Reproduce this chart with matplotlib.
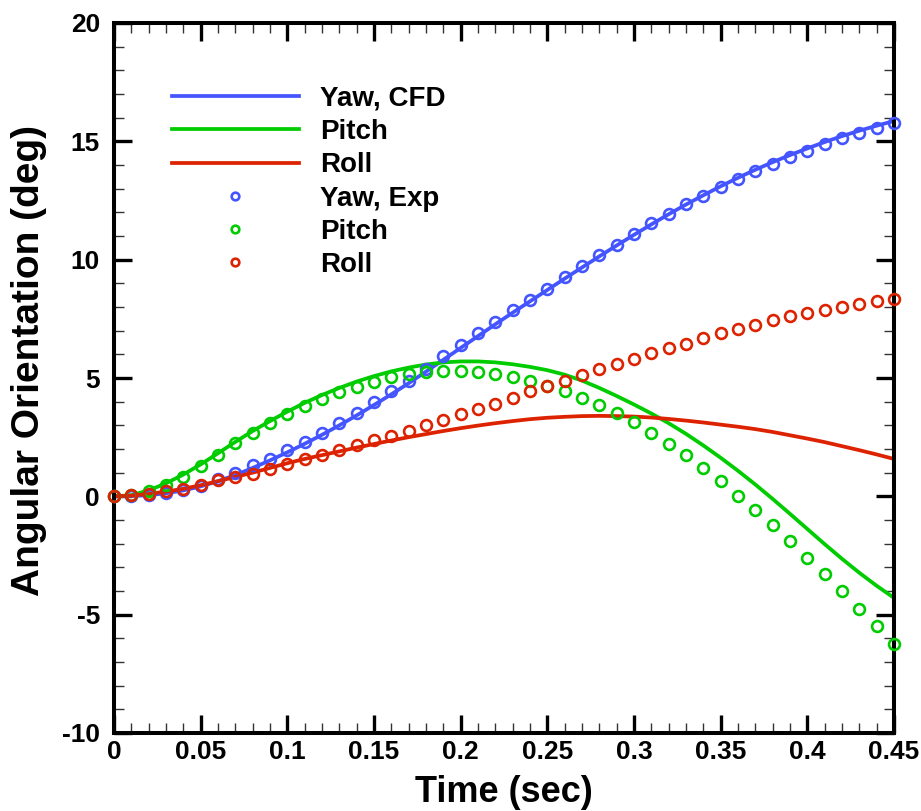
import matplotlib
matplotlib.use("Agg")
import matplotlib.pyplot as plt
from matplotlib.lines import Line2D
from matplotlib.ticker import FixedLocator, MultipleLocator

plt.rcParams['font.family'] = ['Liberation Sans', 'DejaVu Sans']
plt.rcParams['font.weight'] = 'bold'
plt.rcParams['axes.unicode_minus'] = False

time = [0.00, 0.01, 0.02, 0.03, 0.04, 0.05, 0.06, 0.07, 0.08, 0.09,
        0.10, 0.11, 0.12, 0.13, 0.14, 0.15, 0.16, 0.17, 0.18, 0.19,
        0.20, 0.21, 0.22, 0.23, 0.24, 0.25, 0.26, 0.27, 0.28, 0.29,
        0.30, 0.31, 0.32, 0.33, 0.34, 0.35, 0.36, 0.37, 0.38, 0.39,
        0.40, 0.41, 0.42, 0.43, 0.44, 0.45]

yaw_cfd = [0.0, 0.01, 0.05, 0.13, 0.25, 0.42, 0.64, 0.90, 1.20, 1.52,
           1.86, 2.22, 2.60, 3.00, 3.42, 3.86, 4.31, 4.78, 5.27, 5.77,
           6.27, 6.77, 7.27, 7.76, 8.24, 8.72, 9.20, 9.67, 10.14, 10.60,
           11.05, 11.49, 11.92, 12.33, 12.72, 13.10, 13.46, 13.80, 14.12, 14.42,
           14.70, 14.97, 15.22, 15.45, 15.66, 15.86]
pitch_cfd = [0.0, 0.05, 0.25, 0.55, 0.92, 1.35, 1.82, 2.30, 2.76, 3.18,
             3.58, 3.95, 4.28, 4.58, 4.85, 5.08, 5.28, 5.44, 5.57, 5.66,
             5.70, 5.70, 5.66, 5.58, 5.47, 5.33, 5.14, 4.89, 4.58, 4.24,
             3.88, 3.50, 3.09, 2.64, 2.15, 1.63, 1.08, 0.50, -0.11, -0.74,
             -1.38, -2.02, -2.64, -3.23, -3.78, -4.29]
roll_cfd = [0.0, 0.03, 0.10, 0.20, 0.32, 0.47, 0.64, 0.82, 1.00, 1.20,
            1.40, 1.58, 1.74, 1.90, 2.06, 2.21, 2.36, 2.50, 2.63, 2.76,
            2.88, 2.99, 3.09, 3.18, 3.26, 3.32, 3.36, 3.39, 3.40, 3.39,
            3.37, 3.33, 3.27, 3.20, 3.12, 3.03, 2.94, 2.84, 2.72, 2.58,
            2.44, 2.29, 2.12, 1.95, 1.77, 1.58]

yaw_exp = [0.0, 0.0, 0.05, 0.12, 0.25, 0.45, 0.75, 0.98, 1.31, 1.59,
           1.94, 2.29, 2.67, 3.09, 3.51, 3.98, 4.44, 4.89, 5.39, 5.91,
           6.40, 6.89, 7.38, 7.88, 8.30, 8.78, 9.25, 9.72, 10.18, 10.64,
           11.09, 11.53, 11.95, 12.35, 12.70, 13.05, 13.40, 13.73, 14.04, 14.32,
           14.60, 14.88, 15.12, 15.36, 15.58, 15.78]
pitch_exp = [0.0, 0.04, 0.22, 0.49, 0.82, 1.27, 1.73, 2.25, 2.67, 3.09,
             3.49, 3.80, 4.12, 4.40, 4.64, 4.85, 5.03, 5.15, 5.25, 5.29,
             5.29, 5.25, 5.18, 5.06, 4.89, 4.68, 4.47, 4.16, 3.88, 3.52,
             3.14, 2.69, 2.22, 1.73, 1.19, 0.65, 0.03, -0.59, -1.22, -1.90,
             -2.59, -3.28, -4.00, -4.74, -5.49, -6.22]
roll_exp = [0.0, 0.04, 0.11, 0.22, 0.32, 0.49, 0.68, 0.82, 0.96, 1.17,
            1.38, 1.59, 1.76, 1.94, 2.15, 2.36, 2.57, 2.78, 3.00, 3.24,
            3.46, 3.70, 3.91, 4.16, 4.43, 4.68, 4.89, 5.11, 5.36, 5.60,
            5.81, 6.05, 6.26, 6.45, 6.68, 6.90, 7.08, 7.26, 7.43, 7.60,
            7.76, 7.88, 8.00, 8.13, 8.24, 8.35]

x_ticks = [0, 0.05, 0.1, 0.15, 0.2, 0.25, 0.3, 0.35, 0.4, 0.45]
x_ticklabels = ["0", "0.05", "0.1", "0.15", "0.2", "0.25", "0.3", "0.35", "0.4", "0.45"]
y_ticks = [-10, -5, 0, 5, 10, 15, 20]
y_ticklabels = ["-10", "-5", "0", "5", "10", "15", "20"]

labels_cfd = ["Yaw, CFD", "Pitch", "Roll"]
labels_exp = ["Yaw, Exp", "Pitch", "Roll"]

BLUE = "#4455ff"
GREEN = "#00cc00"
RED = "#dd2200"
colors = [BLUE, GREEN, RED]

fig = plt.figure(figsize=(9.21, 8.11), dpi=100)
ax = fig.add_axes([114/921, 1 - 733/811, 780/921, 710/811])

lw = 2.7
for series, c in zip([yaw_cfd, pitch_cfd, roll_cfd], colors):
    ax.plot(time, series, color=c, lw=lw, zorder=2, solid_capstyle='butt')
for series, c in zip([yaw_exp, pitch_exp, roll_exp], colors):
    ax.plot(time, series, linestyle='none', marker='o', markersize=7.8,
            markerfacecolor='none', markeredgecolor=c, markeredgewidth=1.9,
            zorder=3, clip_on=False)

ax.set_xlim(0, 0.45)
ax.set_ylim(-10, 20)
ax.xaxis.set_major_locator(FixedLocator(x_ticks))
ax.set_xticklabels(x_ticklabels)
ax.yaxis.set_major_locator(FixedLocator(y_ticks))
ax.set_yticklabels(y_ticklabels)
ax.xaxis.set_minor_locator(MultipleLocator(0.01))
ax.yaxis.set_minor_locator(MultipleLocator(1))

for s in ax.spines.values():
    s.set_linewidth(2.9)
ax.tick_params(which='major', direction='in', length=13, width=2.4,
               top=True, right=True, labelsize=19, pad=5)
ax.tick_params(axis='y', which='major', pad=10)
ax.tick_params(which='minor', direction='in', length=7.5, width=1.0,
               top=True, right=True, color='#333333')
for lab in ax.get_xticklabels() + ax.get_yticklabels():
    lab.set_fontweight('bold')

ax.set_xlabel("Time (sec)", fontsize=26, fontweight='bold')
ax.set_ylabel("Angular Orientation (deg)", fontsize=28, fontweight='bold')
ax.xaxis.set_label_coords(0.5, -0.059)
ax.yaxis.set_label_coords(-0.086, 0.524)

handles = []
for c in colors:
    handles.append(Line2D([], [], color=c, lw=lw))
for c in colors:
    handles.append(Line2D([], [], linestyle='none', marker='o', markersize=5.5,
                          markerfacecolor='none', markeredgecolor=c,
                          markeredgewidth=1.9))
leg = ax.legend(handles, labels_cfd + labels_exp, loc='upper left',
                bbox_to_anchor=(58/780, (733 - 86)/710), frameon=False,
                prop={'size': 20, 'weight': 'bold'},
                handlelength=4.57, handletextpad=0.75, labelspacing=0.26,
                borderpad=0, borderaxespad=0)

fig.savefig("out.png", dpi=100)
